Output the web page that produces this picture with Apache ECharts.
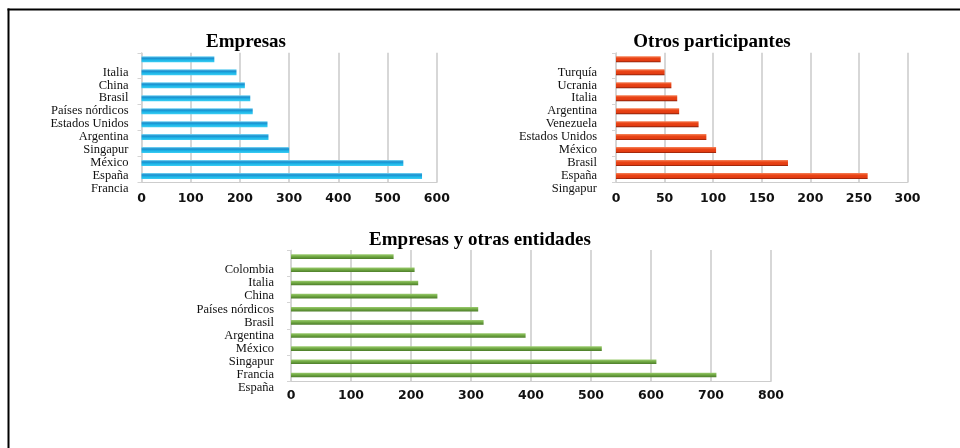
<!DOCTYPE html>
<html>
<head>
<meta charset="utf-8">
<script src="https://cdn.jsdelivr.net/npm/echarts@6/dist/echarts.min.js"></script>
<style>
html,body{margin:0;padding:0;background:#fff;}
#chart{width:960px;height:448px;}
</style>
</head>
<body>
<div id="chart"></div>
<script>
// ---- Data (bottom to top) ----
const titles = ['Empresas', 'Otros participantes', 'Empresas y otras entidades'];

// Category labels as printed (11 label rows, bottom to top)
const empresasLabels = ['Francia', 'España', 'México', 'Singapur', 'Argentina', 'Estados Unidos', 'Países nórdicos', 'Brasil', 'China', 'Italia', ''];
const empresasValues = [570, 532, 300, 258, 256, 226, 221, 210, 193, 148];

const otrosLabels = ['Singapur', 'España', 'Brasil', 'México', 'Estados Unidos', 'Venezuela', 'Argentina', 'Italia', 'Ucrania', 'Turquía', ''];
const otrosValues = [259, 177, 103, 93, 85, 65, 63, 57, 50, 46];

const entidadesLabels = ['España', 'Francia', 'Singapur', 'México', 'Argentina', 'Brasil', 'Países nórdicos', 'China', 'Italia', 'Colombia', ''];
const entidadesValues = [709, 609, 518, 391, 321, 312, 244, 212, 206, 171];

const axisMax = [600, 300, 800];
const axisInterval = [100, 50, 100];

// ---- Styles ----
const serif = 'Liberation Serif, Times New Roman, serif';
const gridColor = '#cdcdcd';

function grad(stops) {
  return new echarts.graphic.LinearGradient(0, 0, 0, 1, stops.map((c) => ({offset: c[0], color: c[1]})));
}
const blue = grad([[0, '#7edcf8'], [0.3, '#1a8ccc'], [0.6, '#1cb2e6'], [1, '#3ccff4']]);
const orange = grad([[0, '#f6845a'], [0.35, '#ea4416'], [0.75, '#e23c12'], [1, '#7e1d08']]);
const green = grad([[0, '#9ccc70'], [0.45, '#72aa44'], [1, '#4c7c2a']]);

const layouts = [
  {left: 141.5, top: 52.8, width: 295.3, height: 129.7, labelMargin: 13, xMargin: 10, titleX: 246, titleY: 33},
  {left: 616, top: 52.8, width: 291.5, height: 129.7, labelMargin: 19, xMargin: 10, titleX: 712, titleY: 33},
  {left: 291, top: 250.1, width: 480, height: 131.4, labelMargin: 17, xMargin: 8, titleX: 480, titleY: 231}
];
const labelSets = [empresasLabels, otrosLabels, entidadesLabels];
const valueSets = [empresasValues, otrosValues, entidadesValues];
const colors = [blue, orange, green];
const barWidths = [6, 6, 4.6];

const grid = [], xAxis = [], yAxis = [], series = [], title = [];
layouts.forEach((L, k) => {
  const n = valueSets[k].length;
  grid.push({left: L.left, top: L.top, width: L.width, height: L.height});
  grid.push({left: L.left, top: L.top, width: L.width, height: L.height * (n + 1) / n});
  const gi = k * 2;
  xAxis.push({
    type: 'value', gridIndex: gi, min: 0, max: axisMax[k], interval: axisInterval[k],
    axisLine: {show: true, lineStyle: {color: gridColor, width: 1}},
    axisTick: {show: false},
    splitLine: {show: true, lineStyle: {color: gridColor, width: 1.6}},
    axisLabel: {margin: L.xMargin, color: '#111', fontFamily: 'DejaVu Sans', fontWeight: 'bold', fontSize: 12.5}
  });
  xAxis.push({type: 'value', gridIndex: gi + 1, min: 0, max: 1, show: false});
  yAxis.push({
    type: 'category', gridIndex: gi, data: labelSets[k].slice(1),
    axisLine: {show: true, lineStyle: {color: '#d4d4d4', width: 1}},
    axisTick: {show: true, length: 4, lineStyle: {color: '#d4d4d4'}},
    axisLabel: {show: false}
  });
  yAxis.push({
    type: 'category', gridIndex: gi + 1, data: labelSets[k],
    axisLine: {show: false}, axisTick: {show: false},
    axisLabel: {interval: 0, margin: L.labelMargin, color: '#111', fontFamily: serif, fontSize: 12.5}
  });
  series.push({
    type: 'bar', xAxisIndex: gi, yAxisIndex: gi, data: valueSets[k],
    barWidth: barWidths[k], itemStyle: {color: colors[k]}, silent: true
  });
  title.push({
    text: titles[k], left: L.titleX, top: L.titleY, textAlign: 'center', padding: 0,
    textStyle: {fontFamily: serif, fontWeight: 'bold', fontSize: 19, color: '#000'}
  });
});

const chart = echarts.init(document.getElementById('chart'), null, {renderer: 'canvas'});
chart.setOption({
  animation: false,
  backgroundColor: '#fff',
  title, grid, xAxis, yAxis, series,
  graphic: [
    {type: 'line', shape: {x1: 7.5, y1: 9.5, x2: 960, y2: 9.5}, style: {stroke: '#000', lineWidth: 2}},
    {type: 'line', shape: {x1: 8.5, y1: 8.5, x2: 8.5, y2: 448}, style: {stroke: '#000', lineWidth: 2}}
  ]
});
</script>
</body>
</html>
